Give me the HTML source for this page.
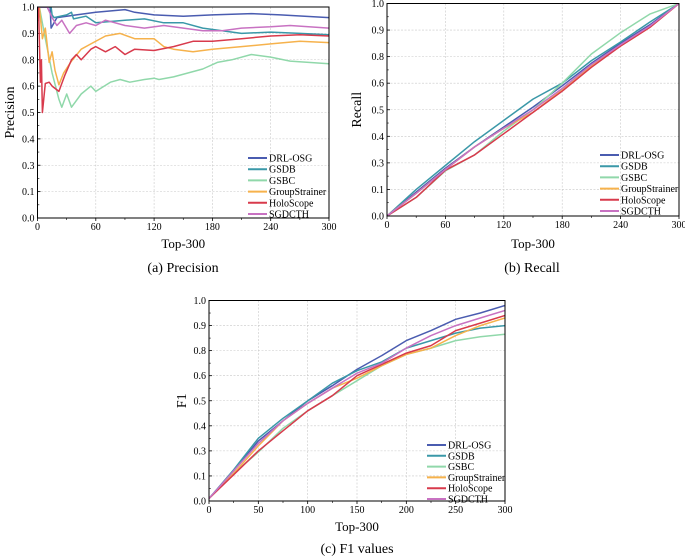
<!DOCTYPE html>
<html><head><meta charset="utf-8">
<style>
html,body{margin:0;padding:0;background:#fff;}
svg{display:block;font-family:"Liberation Serif",serif;}
</style></head>
<body>
<svg id="fig" width="685" height="559" viewBox="0 0 685 559" xmlns="http://www.w3.org/2000/svg"></svg>
<script>
const seriesNames = ["DRL-OSG","GSDB","GSBC","GroupStrainer","HoloScope","SGDCTH"];
const seriesColors = ["#4a5cb0","#3a98a8","#90d8aa","#f6b24c","#d83a4c","#c872c2"];

// Precision (a)
const precX = [
 [1,12,13,14,20,40,60,90,100,120,150,180,220,250,300],
 [1,14,15,17,30,35,37,50,60,90,110,130,150,170,190,210,240,270,300],
 [1,2,7,15,22,25,30,35,45,55,60,75,85,95,110,120,125,140,170,185,200,220,240,260,300],
 [1,2,5,8,12,15,18,22,27,35,45,55,70,85,100,120,130,140,160,180,210,240,270,300],
 [1,3,4,5,8,12,15,22,28,35,40,45,55,60,70,80,90,100,120,140,160,180,210,240,270,300],
 [1,10,15,20,25,33,40,50,60,70,90,110,130,150,170,190,210,240,260,300]
];
const precY = [
 [1,1,1,0.92,0.96,0.97,0.98,0.99,0.98,0.97,0.965,0.97,0.975,0.97,0.96],
 [1,1,0.97,0.96,0.97,0.98,0.955,0.965,0.94,0.95,0.955,0.94,0.94,0.92,0.91,0.90,0.905,0.90,0.895],
 [1,1,0.9,0.7,0.55,0.52,0.57,0.52,0.57,0.6,0.58,0.63,0.65,0.63,0.65,0.66,0.65,0.67,0.73,0.78,0.8,0.82,0.81,0.79,0.77],
 [1,1,0.88,0.92,0.78,0.83,0.72,0.61,0.7,0.79,0.84,0.86,0.89,0.9,0.88,0.88,0.85,0.84,0.83,0.84,0.85,0.86,0.87,0.865],
 [1,0.63,0.8,0.5,0.62,0.63,0.6,0.58,0.68,0.8,0.82,0.8,0.84,0.85,0.83,0.85,0.82,0.84,0.835,0.85,0.87,0.87,0.88,0.89,0.895,0.89],
 [1,1,0.96,0.93,0.95,0.90,0.93,0.94,0.93,0.95,0.93,0.92,0.93,0.92,0.91,0.91,0.92,0.925,0.93,0.92]
];

// Recall (b)
const recallX = [0,30,60,90,120,150,180,210,240,270,300];
const recallY = [
 [0,0.09,0.26,0.36,0.435,0.51,0.59,0.75,0.85,0.92,1],
 [0,0.10,0.28,0.38,0.46,0.54,0.60,0.77,0.855,0.93,1],
 [0,0.07,0.24,0.33,0.42,0.50,0.60,0.81,0.89,0.96,1],
 [0,0.085,0.25,0.36,0.43,0.49,0.575,0.73,0.84,0.91,1],
 [0,0.07,0.245,0.33,0.41,0.49,0.57,0.72,0.84,0.91,1],
 [0,0.085,0.25,0.36,0.43,0.50,0.58,0.74,0.845,0.915,1]
];

// F1 (c)
const f1X = [0,25,50,75,100,125,150,175,200,225,250,275,300];
const f1Y = [
 [0.01,0.14,0.34,0.42,0.50,0.56,0.65,0.76,0.84,0.88,0.925,0.95,0.98],
 [0.01,0.15,0.35,0.43,0.50,0.57,0.64,0.71,0.81,0.84,0.87,0.89,0.90],
 [0.01,0.12,0.29,0.39,0.46,0.52,0.58,0.68,0.77,0.81,0.84,0.855,0.865],
 [0.01,0.12,0.32,0.42,0.49,0.55,0.59,0.68,0.77,0.81,0.86,0.90,0.93],
 [0.01,0.11,0.30,0.38,0.46,0.52,0.60,0.69,0.78,0.82,0.88,0.91,0.94],
 [0.01,0.14,0.33,0.42,0.49,0.55,0.62,0.70,0.81,0.86,0.90,0.93,0.96]
];

const yTicks = ["0.0","0.1","0.3","0.4","0.5","0.6","0.8","0.9","1.0"];
const xTicksAB = ["0","60","120","180","240","300"];
const xTicksC = ["0","50","100","150","200","250","300"];

const NS = "http://www.w3.org/2000/svg";
const fig = document.getElementById("fig");
function el(tag, attrs, parent){
  const e = document.createElementNS(NS, tag);
  for (const k in attrs) e.setAttribute(k, attrs[k]);
  (parent||fig).appendChild(e);
  return e;
}

function drawChart(cfg){
  const g = el("g", {});
  
  
  const L=cfg.l,R=cfg.r,T=cfg.t,B=cfg.b;
  const tv = yTicks.map(parseFloat);
  const n = tv.length-1;
  const sx = v => L + (v/300)*(R-L);
  const sy = v => {
    let i=0; while(i<n-1 && v>tv[i+1]) i++;
    const f = (v-tv[i])/(tv[i+1]-tv[i]);
    return B - (i+f)/n*(B-T);
  };
  yTicks.forEach((t,i)=>{
    const y = B - i/n*(B-T);
    if (i>0 && i<n){
      const gl = el("line",{x1:L,x2:R,y1:y,y2:y,stroke:"#c8c8c8","stroke-width":0.6,"stroke-dasharray":"2,1.5"},g);
      
      
    }
    el("line",{x1:L,x2:L+3,y1:y,y2:y,stroke:"#000","stroke-width":0.8},g);
    if (i<n){ const mid = y-(B-T)/n/2; el("line",{x1:L,x2:L+1.8,y1:mid,y2:mid,stroke:"#000","stroke-width":0.6},g); }
    const tx = el("text",{x:L-3,y:y+3.5,"font-size":10,"text-anchor":"end"},g);
    tx.textContent = t;
    
    
  });
  cfg.xticks.forEach((t,i)=>{
    const v = parseFloat(t), x = sx(v);
    if (i>0 && i<cfg.xticks.length-1){
      const gl = el("line",{x1:x,x2:x,y1:T,y2:B,stroke:"#c8c8c8","stroke-width":0.6,"stroke-dasharray":"2,1.5"},g);
      
      
    }
    el("line",{x1:x,x2:x,y1:B,y2:B+3,stroke:"#000","stroke-width":0.8},g);
    const step = 300/(cfg.xticks.length-1)/2;
    if (i<cfg.xticks.length-1){ const m=sx(v+step); el("line",{x1:m,x2:m,y1:B,y2:B+2,stroke:"#000","stroke-width":0.6},g); }
    const tx = el("text",{x:x,y:B+12,"font-size":10,"text-anchor":"middle"},g);
    tx.textContent = t;
    
    
  });
  const clip = "clip-"+cfg.name;
  const cp = el("clipPath",{id:clip},g);
  el("rect",{x:L,y:T,width:R-L,height:B-T},cp);
  cfg.ys.forEach((ys,si)=>{
    const xs = cfg.xsPer ? cfg.xs[si] : cfg.xs;
    const d = xs.map((x,i)=>(i?"L":"M")+sx(x).toFixed(1)+","+sy(ys[i]).toFixed(1)).join(" ");
    const p = el("path",{d:d,fill:"none",stroke:seriesColors[si],"stroke-width":1.5,"stroke-linejoin":"round","clip-path":"url(#"+clip+")"},g);
    
    
  });
  const fr = el("rect",{x:L,y:T,width:R-L,height:B-T,fill:"none",stroke:"#000","stroke-width":1},g);
  
  
  const lg = el("g",{},g);
  
  
  seriesNames.forEach((nm,i)=>{
    const y = cfg.legY + i*cfg.legDy;
    el("line",{x1:cfg.legX,x2:cfg.legX+19,y1:y,y2:y,stroke:seriesColors[i],"stroke-width":2},lg);
    const t = el("text",{x:cfg.legX+21,y:y+3.5,"font-size":10},lg);
    t.textContent = nm;
    
    
  });
  const xt = el("text",{x:(L+R)/2,y:cfg.xtY,"font-size":13,"text-anchor":"middle"},g);
  xt.textContent = "Top-300";
  
  
  const yt = el("text",{x:0,y:0,"font-size":14,"text-anchor":"middle",transform:"translate("+cfg.ytX+","+((T+B)/2)+") rotate(-90)"},g);
  yt.textContent = cfg.ytitle;
  
  
  const cap = el("text",{x:cfg.capX,y:cfg.capY,"font-size":14,"text-anchor":"middle"},g);
  cap.textContent = cfg.caption;
  
  
}

drawChart({name:"precision-chart",l:37.5,r:329,t:7,b:218,xs:precX,xsPer:true,ys:precY,xticks:xTicksAB,
  legX:248,legY:158,legDy:11.2,xtY:248,ytX:14,ytitle:"Precision",capX:183,capY:272,caption:"(a) Precision"});
drawChart({name:"recall-chart",l:387,r:679,t:3.5,b:216,xs:recallX,ys:recallY,xticks:xTicksAB,
  legX:600,legY:155,legDy:11.2,xtY:248,ytX:361,ytitle:"Recall",capX:532,capY:272,caption:"(b) Recall"});
drawChart({name:"f1-chart",l:209,r:505,t:300.5,b:501,xs:f1X,ys:f1Y,xticks:xTicksC,
  legX:427,legY:445,legDy:10.8,xtY:531,ytX:186,ytitle:"F1",capX:357,capY:553,caption:"(c) F1 values"});
</script>
</body></html>
